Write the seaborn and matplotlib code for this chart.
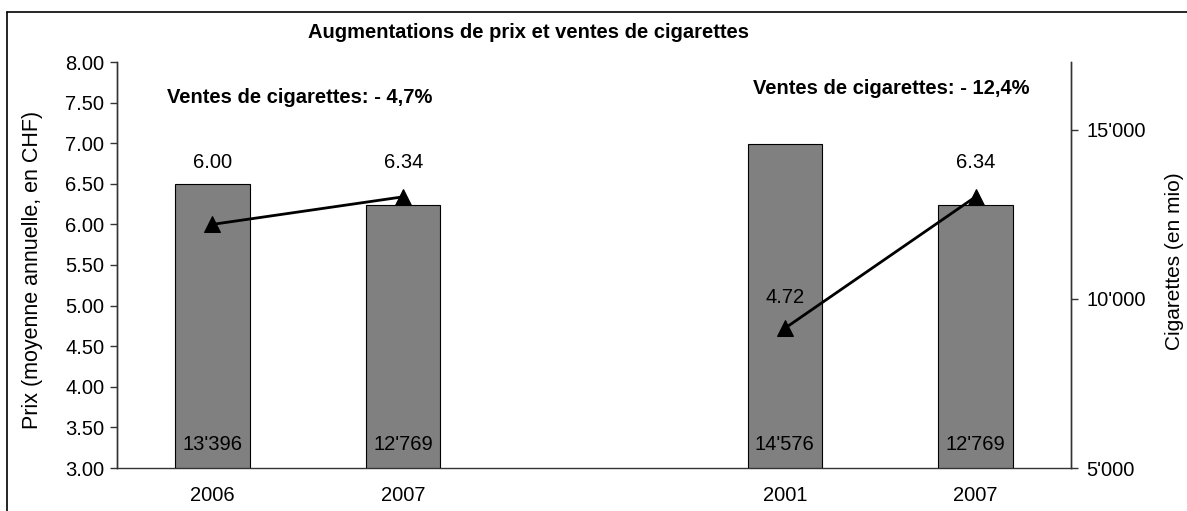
import numpy as np
import pandas as pd
import matplotlib
matplotlib.use("Agg")
import matplotlib.pyplot as plt
import matplotlib.transforms as mtransforms
from matplotlib.ticker import FuncFormatter, MultipleLocator, FixedLocator
import seaborn as sns

# ---- data ----
x_labels = ["2006", "2007", "", "2001", "2007"]
sales = [13396, 12769, np.nan, 14576, 12769]        # Cigarettes (en mio)
prices = [6.00, 6.34, np.nan, 4.72, 6.34]           # Prix (CHF)
pairs = ["A", "A", None, "B", "B"]
sales_labels = ["13'396", "12'769", "", "14'576", "12'769"]
price_labels = ["6.00", "6.34", "", "4.72", "6.34"]
title = "Augmentations de prix et ventes de cigarettes"
note_left = "Ventes de cigarettes: - 4,7%"
note_right = "Ventes de cigarettes: - 12,4%"

sns.set_theme(style="white")
plt.rcParams['font.family'] = ['Liberation Sans', 'DejaVu Sans']
plt.rcParams['text.color'] = 'black'
plt.rcParams['axes.labelcolor'] = 'black'
plt.rcParams['xtick.color'] = 'black'
plt.rcParams['ytick.color'] = 'black'

FS = 14.5
LINE_C = "#333333"

df = pd.DataFrame({"slot": range(len(x_labels)), "sales": sales,
                   "price": prices, "pair": pairs})
df_bars = df.dropna(subset=["sales"])
df_line = df.dropna(subset=["price"])

fig = plt.figure(figsize=(11.87, 5.11), dpi=100)
L, R, B, T = 117 / 1187, 1071 / 1187, 1 - 468 / 511, 1 - 62 / 511
ax = fig.add_axes([L, B, R - L, T - B])

sns.barplot(data=df_bars, x="slot", y="sales", order=list(range(5)),
            color="#808080", saturation=1, width=0.39,
            edgecolor="black", linewidth=0.8, ax=ax, errorbar=None)

ax2 = ax.twinx()
sns.lineplot(data=df_line, x="slot", y="price", units="pair", estimator=None,
             color="black", linewidth=2.0, marker="^", markersize=11,
             markeredgecolor="black", ax=ax2)

# right axis (cigarettes) on primary axes
ax.set_ylim(5000, 17000)
ax.set_xlim(-0.5, 4.5)
ax.yaxis.tick_right()
ax.yaxis.set_label_position("right")
ax.yaxis.set_major_locator(FixedLocator([5000, 10000, 15000]))
ax.yaxis.set_major_formatter(FuncFormatter(lambda v, p: f"{int(v):,}".replace(",", "'")))
ax.set_ylabel("Cigarettes (en mio)", fontsize=15, color="black")
ax.yaxis.set_label_coords((1165 - 117) / 954, (468 - 261) / 406)

# left axis (prix) on twin axes
ax2.set_ylim(3.0, 8.0)
ax2.set_xlim(-0.5, 4.5)
ax2.yaxis.tick_left()
ax2.yaxis.set_label_position("left")
ax2.yaxis.set_major_locator(MultipleLocator(0.5))
ax2.yaxis.set_major_formatter(FuncFormatter(lambda v, p: f"{v:.2f}"))
ax2.set_ylabel("Prix (moyenne annuelle, en CHF)", fontsize=15.5, color="black")
ax2.yaxis.set_label_coords((43 - 117) / 954, (468 - 270) / 406)
ax2.set_xlabel("")
ax.set_xlabel("")

# x ticks: boundaries (major) and labels at centres (minor)
ax.xaxis.set_major_locator(FixedLocator(np.arange(-0.5, 5, 1.0)))
ax.xaxis.set_major_formatter(FuncFormatter(lambda v, p: ""))
ax.xaxis.set_minor_locator(FixedLocator(np.arange(0, 5)))
ax.xaxis.set_minor_formatter(FuncFormatter(lambda v, p: x_labels[int(round(v))]))
ax.tick_params(axis="x", which="major", direction="inout", length=9, width=1, color=LINE_C)
ax.tick_params(axis="x", which="minor", length=0, labelsize=FS, pad=13, labelcolor="black")
ax2.tick_params(axis="x", which="both", length=0, labelbottom=False)
ax.tick_params(axis="y", which="major", direction="out", length=5, width=1,
               color=LINE_C, labelsize=FS, pad=6, left=False, right=True,
               labelleft=False, labelright=True, labelcolor="black")
ax2.tick_params(axis="y", which="major", direction="out", length=5, width=1,
                color=LINE_C, labelsize=FS, pad=4, left=True, right=False,
                labelleft=True, labelright=False, labelcolor="black")

for a in (ax, ax2):
    a.spines["top"].set_visible(False)
    for s in ("left", "right", "bottom"):
        a.spines[s].set_color(LINE_C)
        a.spines[s].set_linewidth(1.0)
ax2.spines["bottom"].set_visible(False)

# bar value labels (near bottom of bars)
tr = mtransforms.blended_transform_factory(ax.transData, ax.transAxes)
for i, lab in enumerate(sales_labels):
    if lab:
        ax.text(i, (468 - 445) / 406, lab, transform=tr, ha="center",
                va="center", fontsize=FS, color="black")

# price labels
offsets_px = [62, 34, 0, 31, 34]
for i, lab in enumerate(price_labels):
    if lab:
        ax2.annotate(lab, xy=(i, prices[i]), xytext=(0, offsets_px[i] * 0.72),
                     textcoords="offset points", ha="center", va="center",
                     fontsize=FS, color="black")

ax2.text((300 - 117) / 954, (468 - 97) / 406, note_left, transform=ax2.transAxes,
         ha="center", va="center", fontsize=FS, fontweight="bold", color="black")
ax2.text((891 - 117) / 954, (468 - 88) / 406, note_right, transform=ax2.transAxes,
         ha="center", va="center", fontsize=FS, fontweight="bold", color="black")

fig.text(529 / 1187, 1 - 33 / 511, title, ha="center", va="center",
         fontsize=FS, fontweight="bold", color="black")

# outer frame (top and left edges visible)
fig.add_artist(plt.Line2D([7 / 1187, 1.0], [1 - 12 / 511, 1 - 12 / 511],
                          transform=fig.transFigure, color="black", linewidth=1.2))
fig.add_artist(plt.Line2D([7 / 1187, 7 / 1187], [0, 1 - 12 / 511],
                          transform=fig.transFigure, color="black", linewidth=1.2))

fig.savefig("out.png", dpi=100, facecolor="white")
